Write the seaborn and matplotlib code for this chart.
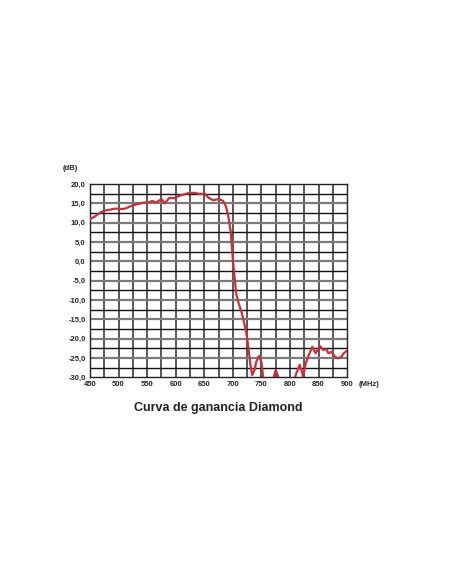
import numpy as np
import pandas as pd
import matplotlib.pyplot as plt
import seaborn as sns

# Data (MHz, dB)
freq = [450, 457.6, 466, 475, 484, 492.7, 500, 507, 513, 522, 531, 539.6, 545, 551,
        559, 566, 575, 580.6, 589, 598, 604, 610, 621.5, 633, 642, 651, 656.7, 665.5,
        676, 683, 688, 692, 696, 700, 703, 706, 710, 716, 723, 727, 731, 734, 738, 741, 745.7,
        750, 753, 760, 768, 771.4, 775, 779, 785, 795, 805, 811, 817, 820, 823,
        827.6, 831.8, 839, 845, 852, 858, 864, 867, 873, 878.6, 884.4, 890, 894, 899]
gain = [10.9, 11.5, 12.4, 13.1, 13.3, 13.6, 13.6, 13.5, 13.7, 14.3, 14.7, 15.0, 15.2, 15.2,
        15.6, 15.2, 16.1, 15.0, 16.4, 16.3, 16.8, 17.1, 17.6, 17.7, 17.4, 17.5, 16.5, 15.8,
        16.1, 15.6, 14.2, 11.7, 8.0, 0.5, -4.0, -8.5, -10.8, -13.5, -18.0, -22.0, -27.0, -29.4, -28.1, -26.0, -24.5,
        -26.0, -30.0, -32.5, -32.0, -30.0, -28.1, -29.7, -32.0, -33.0, -32.0, -29.0, -26.8, -28.1, -29.8,
        -26.4, -24.7, -22.1, -23.8, -21.9, -22.9, -22.8, -23.8, -23.4, -24.7, -25.1, -24.7, -23.8, -23.2]

x_ticks = [450, 500, 550, 600, 650, 700, 750, 800, 850, 900]
y_ticks = [20, 15, 10, 5, 0, -5, -10, -15, -20, -25, -30]

df = pd.DataFrame({'freq': freq, 'gain': gain})

sns.set_style('white')
plt.rcParams['font.family'] = ['Liberation Sans', 'DejaVu Sans']

fig = plt.figure(figsize=(4.52, 5.84), dpi=100)
ax = fig.add_axes([0.199, 0.354, 0.569, 0.331])

# grid: every 25 MHz and every 2.5 dB, multiples of 5 dB in gray
for xv in np.arange(475, 900, 25):
    ax.axvline(xv, color='#4a4a4a', lw=1.3, zorder=1)
for yv in np.arange(-27.5, 20, 2.5):
    if yv % 5 == 0:
        ax.axhline(yv, color='#7a7a7a', lw=1.6, zorder=1)
    else:
        ax.axhline(yv, color='#111111', lw=1.0, zorder=1)

sns.lineplot(data=df, x='freq', y='gain', ax=ax, color='#c9303c', lw=1.6, zorder=3)

ax.set_xlim(450, 900)
ax.set_ylim(-30, 20)
ax.set_xticks(x_ticks)
ax.set_xticklabels([str(v) for v in x_ticks])
ax.set_yticks(y_ticks)
ax.set_yticklabels([f'{v},0' for v in y_ticks])
ax.tick_params(length=0, labelsize=5.5, pad=3)
for lab in ax.get_xticklabels() + ax.get_yticklabels():
    lab.set_fontweight('bold')
ax.set_xlabel('')
ax.set_ylabel('')
for s in ax.spines.values():
    s.set_color('#222222')
    s.set_linewidth(1.0)

ax.text(-0.075, 1.06, '(dB)', transform=ax.transAxes, fontsize=5.5,
        fontweight='bold', ha='center', va='bottom')
ax.text(1.045, -0.04, '(MHz)', transform=ax.transAxes, fontsize=5.5,
        fontweight='bold', ha='left', va='center')
fig.text(0.482, 0.301, 'Curva de ganancia Diamond', fontsize=9,
         fontweight='bold', ha='center', va='center', color='#222222')

fig.savefig('out.png', dpi=100)
